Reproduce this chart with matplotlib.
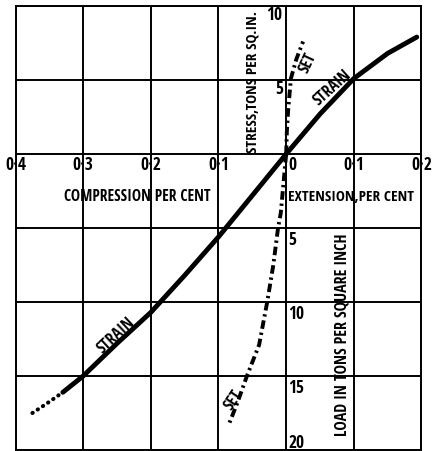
import matplotlib
matplotlib.use('Agg')
from matplotlib import pyplot as plt
from matplotlib import font_manager as fm
import numpy as np

# strain curve (solid part), x in per cent, y in tons per sq. in.
strain_x = [-0.33, -0.30, -0.25, -0.20, -0.15, -0.10, -0.05, 0.0, 0.05, 0.10, 0.15, 0.193]
strain_y = [-16.1, -15.0, -12.8, -10.7, -8.2, -5.6, -2.8, 0.0, 2.7, 5.1, 6.8, 7.9]
# dotted tail of the strain curve
tail_x = [-0.375, -0.355, -0.33]
tail_y = [-17.5, -16.9, -16.1]
# permanent set, tension side and compression side
set_up_x = [0.0, 0.001, 0.003, 0.007, 0.015, 0.025]
set_up_y = [0.0, 1.5, 3.0, 5.1, 6.4, 7.6]
set_dn_x = [0.0, -0.004, -0.008, -0.012, -0.019, -0.028, -0.040, -0.058, -0.072, -0.085]
set_dn_y = [0.0, -2.0, -4.0, -5.0, -7.5, -10.0, -12.9, -15.0, -16.8, -18.3]

x_ticks = [-0.4, -0.3, -0.2, -0.1, 0.0, 0.1, 0.2]
x_labels = ['0·4', '0·3', '0·2', '0·1', '0', '0·1', '0·2']
y_ticks = [-20, -15, -10, -5, 0, 5, 10]
up_labels = {5: '5', 10: '10'}
dn_labels = {-5: '5', -10: '10', -15: '15', -20: '20'}


def pick_font():
    # narrow heavy face, closest to the old engraved lettering
    for f in fm.fontManager.ttflist:
        if f.fname.endswith('OpenSans-CondBold.ttf'):
            return fm.FontProperties(fname=f.fname)
    return fm.FontProperties(family='DejaVu Sans', weight='bold', stretch='condensed')


base = pick_font()


def font(size):
    p = base.copy()
    p.set_size(size)
    return p


fig = plt.figure(figsize=(4.34, 4.52), dpi=100)
ax = fig.add_axes([15.5 / 434, 1 / 452, 406 / 434, 444 / 452])
ax.set_xlim(-0.4, 0.2)
ax.set_ylim(-20, 10)
ax.set_xticks([])
ax.set_yticks([])
for s in ax.spines.values():
    s.set_linewidth(1.4)

# grid
for xv in x_ticks:
    ax.axvline(xv, color='black', lw=1.4)
for yv in y_ticks:
    ax.axhline(yv, color='black', lw=1.4)

# curves
ax.plot(strain_x, strain_y, color='black', lw=3.5, solid_capstyle='round')
ax.plot(tail_x, tail_y, color='black', lw=2.9, linestyle=(0, (0.1, 1.45)),
        dash_capstyle='round')
ax.plot(set_up_x, set_up_y, color='black', lw=2.8, linestyle=(0, (2.2, 1.0, 0.6, 1.0)))
ax.plot(set_dn_x, set_dn_y, color='black', lw=2.8, linestyle=(0, (2.2, 1.0, 0.6, 1.0)))

# tick labels along the axes
for xv, lab in zip(x_ticks, x_labels):
    if xv == 0:
        ax.text(0.004, -0.65, lab, ha='left', va='center', fontproperties=font(12.5),
                clip_on=False)
    else:
        ax.text(xv, -0.65, lab, ha='center', va='center', fontproperties=font(12.5),
                clip_on=False)
for yv, lab in up_labels.items():
    ax.text(-0.005, yv - 0.55, lab, ha='right', va='center', fontproperties=font(12.5))
for yv, lab in dn_labels.items():
    ax.text(0.003, max(yv - 0.75, -19.45), lab, ha='left', va='center',
            fontproperties=font(12.5))

# axis titles
ax.text(-0.05, 0.15, 'STRESS,TONS PER SQ.IN.', rotation=90, rotation_mode='anchor',
        ha='left', va='center', fontproperties=font(11))
ax.text(0.083, -19.0, 'LOAD IN TONS PER SQUARE INCH', rotation=90, rotation_mode='anchor',
        ha='left', va='center', fontproperties=font(11.5))
ax.text(-0.22, -2.84, 'COMPRESSION PER CENT', ha='center', va='center',
        fontproperties=font(11.2))
ax.text(0.002, -2.84, 'EXTENSION,PER CENT', ha='left', va='center',
        fontproperties=font(11))

# curve labels
ax.text(0.069, 4.5, 'STRAIN', rotation=42, rotation_mode='anchor',
        ha='center', va='center', fontproperties=font(11.5))
ax.text(-0.252, -12.2, 'STRAIN', rotation=43, rotation_mode='anchor',
        ha='center', va='center', fontproperties=font(11.5))
ax.text(0.033, 6.2, 'SET', rotation=65, rotation_mode='anchor',
        ha='center', va='center', fontproperties=font(11.5))
ax.text(-0.078, -16.6, 'SET', rotation=56, rotation_mode='anchor',
        ha='center', va='center', fontproperties=font(11.5))

fig.savefig('out.png', dpi=100)
